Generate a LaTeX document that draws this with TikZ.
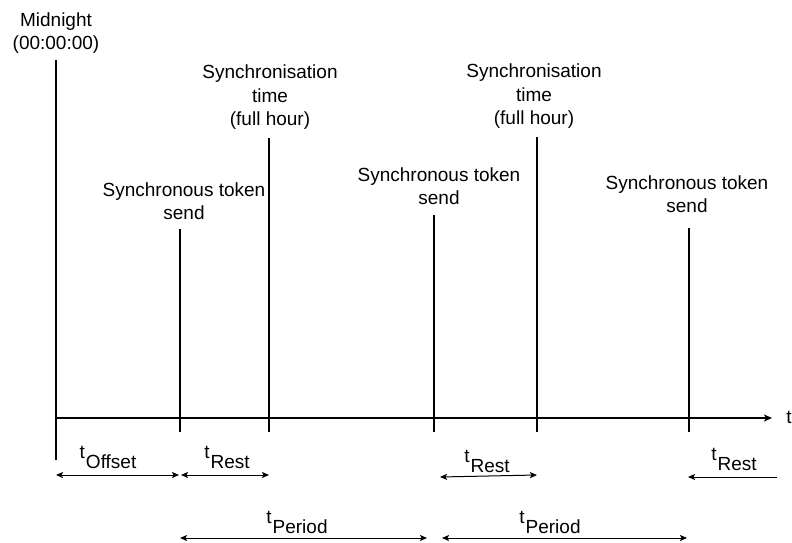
\documentclass[tikz,border=0pt]{standalone}
\usepackage{fontspec}
\setmainfont{Liberation Sans}
\usetikzlibrary{arrows.meta}

\newcommand{\tsub}[1]{t\kern1pt\raisebox{-0.55em}{#1}}

\tikzset{
  lbl/.style={font=\fontsize{19pt}{23.5pt}\selectfont, align=center, inner sep=0pt, text depth=0pt},
  timeline/.style={line width=2pt},
  spanarrow/.style={line width=1pt, {Stealth[length=7pt,width=6pt,inset=1.5pt]}-{Stealth[length=7pt,width=6pt,inset=1.5pt]}},
  leftarrow/.style={line width=1pt, {Stealth[length=7pt,width=6pt,inset=1.5pt]}-}
}

\begin{document}
\begin{tikzpicture}[x=1pt,y=-1pt]
  \useasboundingbox (0,0) rectangle (792,543);

  %draw horizontal line
  \coordinate (origin) at (56,418);
  \coordinate (tend) at (772,418);
  \draw[timeline, -{Stealth[length=8pt,width=7pt,inset=2pt]}] (origin) -- (tend);
  \node[lbl, anchor=base] (taxis) at (789,423) {t};

  %draw midnight line
  \coordinate (mid-top) at (56,60);
  \coordinate (mid-bot) at (56,460);
  \draw[timeline] (mid-top) -- (mid-bot);

  %draw vertical lines
  \foreach \name/\x/\y in {tokA/180/229, syncA/269/138, tokB/434/215, syncB/537/137, tokC/689/228}{
    \coordinate (\name-top) at (\x,\y);
    \coordinate (\name-bot) at (\x,432);
    \draw[timeline] (\name-top) -- (\name-bot);
  }

  %draw nodes
  \node[lbl, anchor=south] (midlbl) at (56,50) {Midnight\\(00:00:00)};
  \node[lbl, anchor=south] (tokAlbl) at (184,220) {Synchronous token\\send};
  \node[lbl, anchor=south] (tokBlbl) at (439,205) {Synchronous token\\send};
  \node[lbl, anchor=south] (tokClbl) at (687,213) {Synchronous token\\send};
  \node[lbl, anchor=south] (syncAlbl) at (270,126) {Synchronisation\\time\\(full hour)};
  \node[lbl, anchor=south] (syncBlbl) at (534,125) {Synchronisation\\time\\(full hour)};

  %draw spans
  \coordinate (offA) at (56,475);   \coordinate (offB) at (179,475);
  \coordinate (restA1) at (181,475); \coordinate (restA2) at (269,475);
  \coordinate (restB1) at (440,477); \coordinate (restB2) at (537,475);
  \coordinate (restC1) at (688,477); \coordinate (restC2) at (777,477);
  \coordinate (perA1) at (180,538);  \coordinate (perA2) at (427,538);
  \coordinate (perB1) at (442,538);  \coordinate (perB2) at (687,538);

  \draw[spanarrow] (offA) -- (offB);
  \draw[spanarrow] (restA1) -- (restA2);
  \draw[spanarrow] (restB1) -- (restB2);
  \draw[leftarrow] (restC1) -- (restC2);
  \draw[spanarrow] (perA1) -- (perA2);
  \draw[spanarrow] (perB1) -- (perB2);

  \node[lbl, anchor=base] (offlbl) at (108,458) {\tsub{Offset}};
  \node[lbl, anchor=base] (restAlbl) at (227,458) {\tsub{Rest}};
  \node[lbl, anchor=base] (restBlbl) at (487,462) {\tsub{Rest}};
  \node[lbl, anchor=base] (restClbl) at (734,460) {\tsub{Rest}};
  \node[lbl, anchor=base] (perAlbl) at (297,523) {\tsub{Period}};
  \node[lbl, anchor=base] (perBlbl) at (550,523) {\tsub{Period}};
\end{tikzpicture}
\end{document}
